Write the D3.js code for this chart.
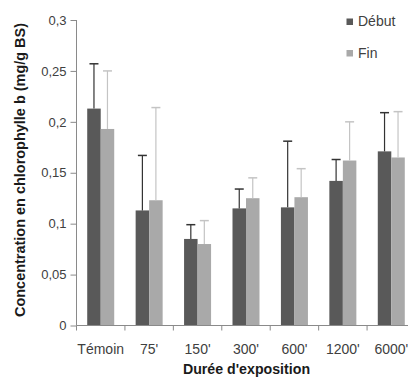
<!DOCTYPE html>
<html><head><meta charset="utf-8">
<script src="https://cdn.jsdelivr.net/npm/d3@7"></script>
<style>html,body{margin:0;padding:0;background:#fff;}svg{display:block;}</style>
</head><body>
<script>
const categories = ["Témoin", "75'", "150'", "300'", "600'", "1200'", "6000'"];
const seriesNames = ["Début", "Fin"];
const debut = [0.213, 0.113, 0.085, 0.115, 0.116, 0.142, 0.171];
const fin = [0.193, 0.123, 0.080, 0.125, 0.126, 0.162, 0.165];
const debutErr = [0.044, 0.054, 0.014, 0.019, 0.065, 0.021, 0.038];
const finErr = [0.057, 0.091, 0.023, 0.020, 0.028, 0.038, 0.045];
const yTicks = [0, 0.05, 0.1, 0.15, 0.2, 0.25, 0.3];
const yTickLabels = ["0", "0,05", "0,1", "0,15", "0,2", "0,25", "0,3"];

const W = 408, H = 385;
const colors = {"Début": "#595959", "Fin": "#a9a9a9"};
const errColors = {"Début": "#333333", "Fin": "#c4c4c4"};
const font = "'Liberation Sans', Arial, sans-serif";

const svg = d3.select("body").append("svg").attr("width", W).attr("height", H);

const x = d3.scaleBand().domain(categories).range([76.5, 415.5]).padding(0);
const xs = d3.scaleBand().domain(seriesNames).range([0, 27]);
const innerOff = (x.bandwidth() - 27) / 2;
const y = d3.scaleLinear().domain([0, 0.3]).range([325.5, 20]);

const data = seriesNames.map((s, si) => ({
  name: s,
  values: categories.map((c, i) => ({cat: c, v: si === 0 ? debut[i] : fin[i], e: si === 0 ? debutErr[i] : finErr[i]}))
}));

// bars
const g = svg.append("g");
data.forEach(s => {
  g.selectAll(null).data(s.values).enter().append("rect")
    .attr("x", d => x(d.cat) + innerOff + xs(s.name))
    .attr("y", d => y(d.v))
    .attr("width", xs.bandwidth())
    .attr("height", d => y(0) - y(d.v))
    .attr("fill", colors[s.name]);
});
// error bars
data.forEach(s => {
  const cx = d => x(d.cat) + innerOff + xs(s.name) + xs.bandwidth() / 2;
  g.selectAll(null).data(s.values).enter().append("line")
    .attr("x1", cx).attr("x2", cx)
    .attr("y1", d => y(d.v)).attr("y2", d => y(d.v + d.e))
    .attr("stroke", errColors[s.name]).attr("stroke-width", 1.2);
  g.selectAll(null).data(s.values).enter().append("line")
    .attr("x1", d => cx(d) - 4.5).attr("x2", d => cx(d) + 4.5)
    .attr("y1", d => y(d.v + d.e)).attr("y2", d => y(d.v + d.e))
    .attr("stroke", errColors[s.name]).attr("stroke-width", 1.5);
});

// y axis
const yAxis = d3.axisLeft(y).tickValues(yTicks).tickSize(6).tickPadding(4)
  .tickFormat((d, i) => yTickLabels[i]);
const ya = svg.append("g").attr("transform", "translate(76.5,0)").call(yAxis);
ya.select(".domain").attr("stroke", "#8a8a8a").attr("d", `M0,${y(0.3)}V${y(0)}`);
ya.selectAll(".tick line").attr("stroke", "#8a8a8a");
ya.selectAll("text").attr("font-family", font).attr("font-size", 13).attr("fill", "#404040");

// x axis
const xAxis = d3.axisBottom(x).tickSize(0).tickPadding(19);
const xa = svg.append("g").attr("transform", `translate(0,${y(0)})`).call(xAxis);
xa.select(".domain").attr("stroke", "#8a8a8a").attr("d", `M${x.range()[0]},0H${W}`);
xa.selectAll("text").attr("font-family", font).attr("font-size", 14).attr("fill", "#404040");
xa.selectAll(null).data(categories).enter().append("line")
  .attr("x1", d => x(d)).attr("x2", d => x(d))
  .attr("y1", 0).attr("y2", 5).attr("stroke", "#8a8a8a");

// axis titles
svg.append("text").attr("x", 246.5).attr("y", 374).attr("text-anchor", "middle")
  .attr("font-family", font).attr("font-weight", "bold").attr("font-size", 14.2).attr("fill", "#1a1a1a")
  .text("Durée d'exposition");
svg.append("text").attr("transform", "translate(25,170) rotate(-90)").attr("text-anchor", "middle")
  .attr("font-family", font).attr("font-weight", "bold").attr("font-size", 14.2).attr("fill", "#1a1a1a")
  .attr("textLength", 294).attr("lengthAdjust", "spacingAndGlyphs")
  .text("Concentration en chlorophylle b (mg/g BS)");

// legend
const leg = svg.append("g");
seriesNames.forEach((s, i) => {
  leg.append("rect").attr("x", 346.5).attr("y", 18.5 + i * 31.5).attr("width", 6.5).attr("height", 6.5).attr("fill", colors[s]);
  leg.append("text").attr("x", 358).attr("y", 26 + i * 31.5)
    .attr("font-family", font).attr("font-size", 14).attr("fill", "#404040").text(s);
});
</script>
</body></html>
